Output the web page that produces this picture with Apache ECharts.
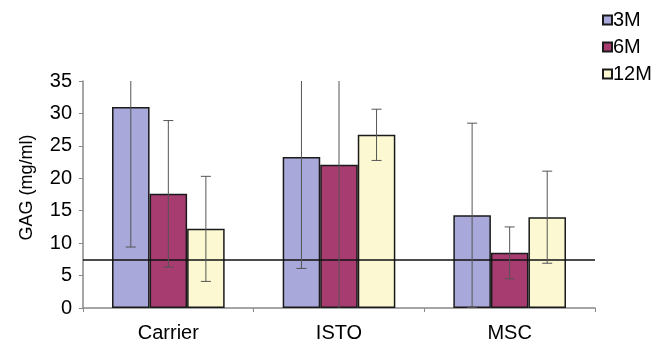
<!DOCTYPE html>
<html>
<head>
<meta charset="utf-8">
<script src="https://cdn.jsdelivr.net/npm/echarts@6/dist/echarts.min.js"></script>
<style>html,body{margin:0;padding:0;background:#fff}#c{width:655px;height:345px}</style>
</head>
<body>
<div id="c"></div>
<script>
var categories = ['Carrier', 'ISTO', 'MSC'];
var seriesNames = ['3M', '6M', '12M'];
var values3M = [31.0, 23.3, 14.3];
var values6M = [17.6, 22.1, 8.5];
var values12M = [12.2, 26.7, 14.0];
var err3M = [21.6, 17.2, 14.2];
var err6M = [11.3, 22.5, 4.0];
var err12M = [8.1, 3.95, 7.1];
var refLine = 7.5;
var yTicks = [0, 5, 10, 15, 20, 25, 30, 35];

var colors = ['#a8a8da', '#a63c70', '#fcf9d2'];
var allVals = [values3M, values6M, values12M];
var allErr = [err3M, err6M, err12M];
var yMin = yTicks[0], yMax = yTicks[yTicks.length - 1];
var catGapFrac = 0.34;

var errData = [];
for (var s = 0; s < 3; s++) {
  for (var i = 0; i < categories.length; i++) {
    errData.push([i, allVals[s][i], allErr[s][i], s]);
  }
}

var chart = echarts.init(document.getElementById('c'));
var font = 'Liberation Sans, Arial, sans-serif';
var series = seriesNames.map(function (n, s) {
  return {
    name: n, type: 'bar', data: allVals[s], barGap: 0, barCategoryGap: '34%',
    itemStyle: { color: colors[s], borderColor: '#1a1a1a', borderWidth: 1.5 },
    emphasis: { disabled: true }
  };
});
series.push({
  type: 'custom', z: 5, silent: true,
  data: errData,
  encode: { x: 0, y: 1 },
  renderItem: function (params, api) {
    var ci = api.value(0), v = api.value(1), e = api.value(2), si = api.value(3);
    var catW = api.size([1, 0])[0];
    var bw = catW * (1 - catGapFrac) / 3;
    var cx = api.coord([ci, v])[0] + (si - 1) * bw;
    var hi = v + e, lo = v - e;
    var hiC = Math.min(hi, yMax), loC = Math.max(lo, yMin);
    var yh = api.coord([ci, hiC])[1], yl = api.coord([ci, loC])[1];
    var st = { stroke: '#555', lineWidth: 1 };
    var ch = [{ type: 'line', shape: { x1: cx, y1: yh, x2: cx, y2: yl }, style: st }];
    var cw = 5;
    if (hi <= yMax) ch.push({ type: 'line', shape: { x1: cx - cw, y1: yh, x2: cx + cw, y2: yh }, style: st });
    if (lo >= yMin) ch.push({ type: 'line', shape: { x1: cx - cw, y1: yl, x2: cx + cw, y2: yl }, style: st });
    return { type: 'group', children: ch };
  },
  markLine: {
    silent: true, symbol: 'none', label: { show: false },
    lineStyle: { color: '#111', width: 1.5, type: 'solid' },
    data: [{ yAxis: refLine }]
  }
});

chart.setOption({
  animation: false,
  backgroundColor: '#fff',
  grid: { left: 83, right: 60, top: 81, bottom: 37 },
  legend: {
    data: seriesNames, orient: 'vertical', left: 597, top: 5,
    itemWidth: 9, itemHeight: 9, itemGap: 7, icon: 'rect',
    textStyle: { fontFamily: font, fontSize: 20, color: '#000', padding: [0, 0, 0, -4], lineHeight: 20 },
    selectedMode: false
  },
  xAxis: {
    type: 'category', data: categories,
    axisLine: { lineStyle: { color: '#888', width: 1.5 } },
    axisTick: { show: true, length: 4, lineStyle: { color: '#888' } },
    axisLabel: { fontFamily: font, fontSize: 20, color: '#000', margin: 15 }
  },
  yAxis: {
    type: 'value', min: yMin, max: yMax, interval: 5,
    name: 'GAG (mg/ml)', nameLocation: 'middle', nameGap: 47,
    nameTextStyle: { fontFamily: font, fontSize: 18, color: '#000', padding: [0, 0, 0, 14] },
    axisLine: { show: true, lineStyle: { color: '#888', width: 1.5 } },
    axisTick: { show: true, length: 4, lineStyle: { color: '#888' } },
    splitLine: { show: false },
    axisLabel: { fontFamily: font, fontSize: 20, color: '#000', margin: 11 }
  },
  series: series
});
</script>
</body>
</html>
